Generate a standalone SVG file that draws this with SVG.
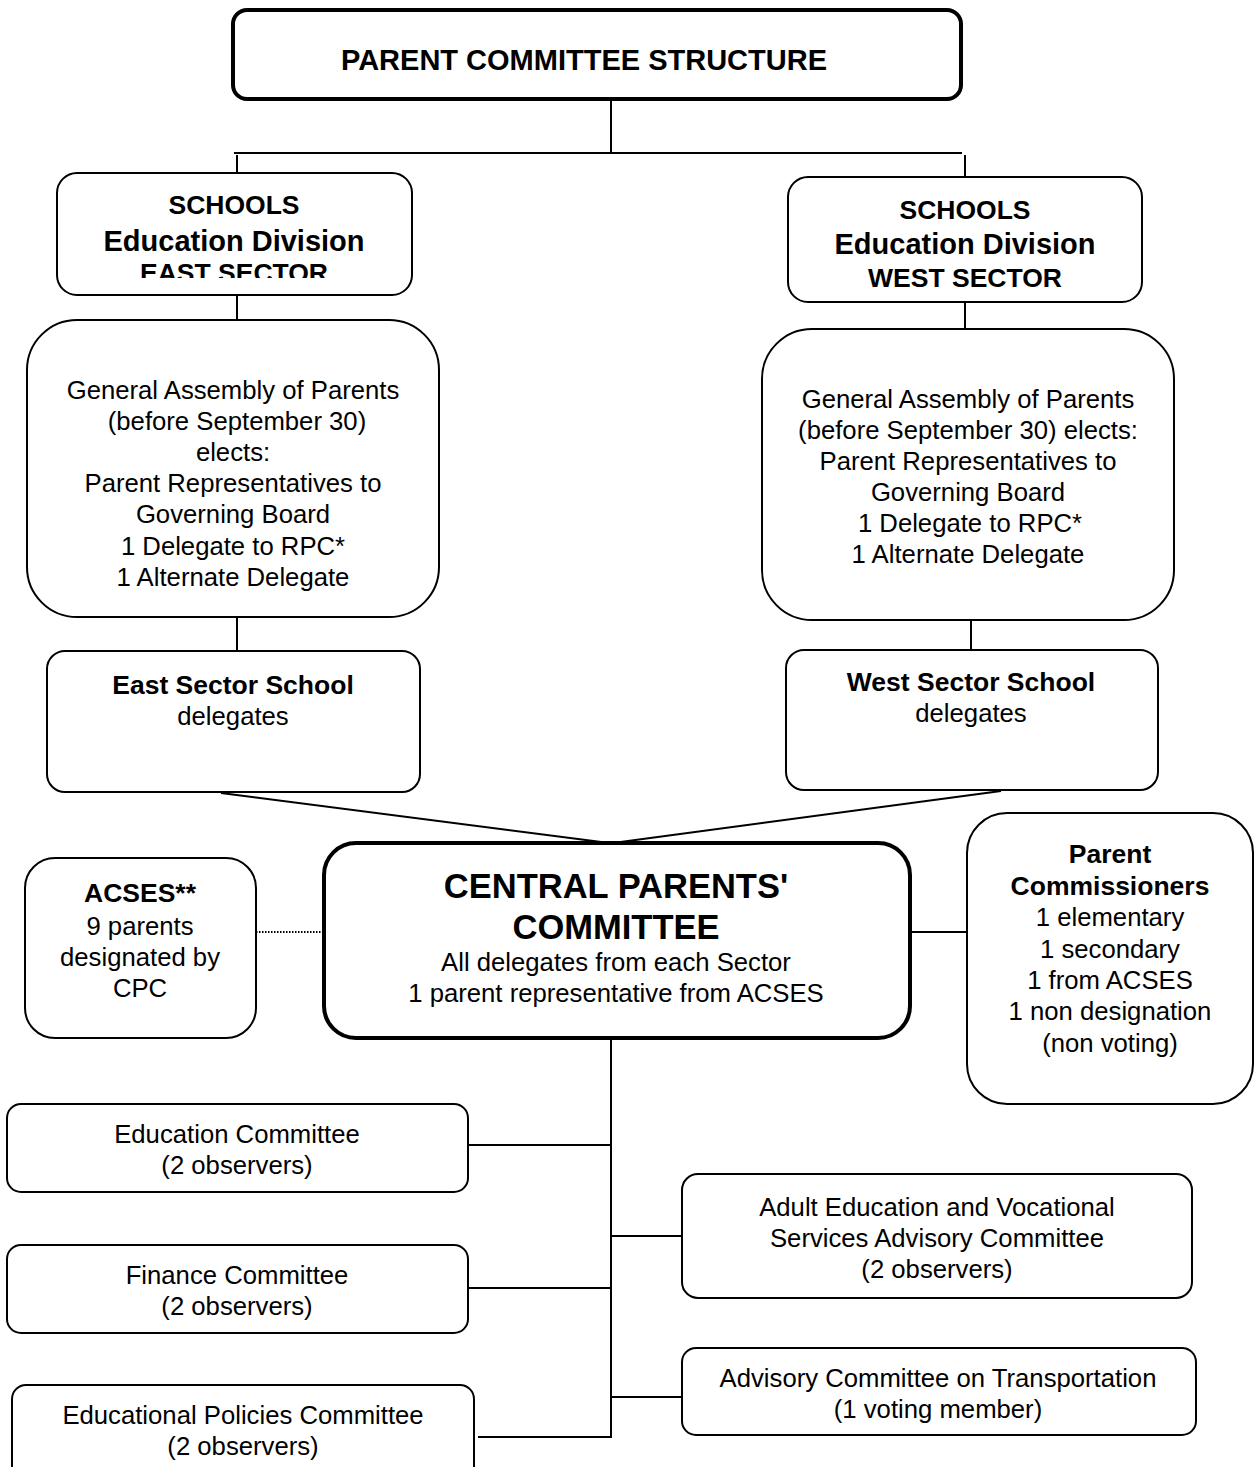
<svg xmlns="http://www.w3.org/2000/svg" width="1254" height="1467" viewBox="0 0 1254 1467">
<style>
.box{fill:#fff;stroke:#000;stroke-width:2}
.thick{stroke-width:4}
.t{font-family:"Liberation Sans",Arial,Helvetica,sans-serif;font-size:25.7px;fill:#000;text-anchor:middle}
.b{font-weight:bold;font-size:26.5px}
.c{fill:none;stroke:#000;stroke-width:2}
</style>
<defs>
<clipPath id="eastclip"><rect x="57" y="173" width="355" height="105"/></clipPath>
</defs>
<rect width="1254" height="1467" fill="#fff"/>
<g id="connectors">
<line class="c" x1="611" y1="100" x2="611" y2="153"/>
<line class="c" x1="234" y1="153" x2="962" y2="153"/>
<line class="c" x1="237" y1="155" x2="237" y2="181"/>
<line class="c" x1="965" y1="155" x2="965" y2="178"/>
<line class="c" x1="237" y1="295" x2="237" y2="320"/>
<line class="c" x1="965" y1="302" x2="965" y2="329"/>
<line class="c" x1="237" y1="617" x2="237" y2="651"/>
<line class="c" x1="971" y1="620" x2="971" y2="650"/>
<line class="c" x1="221" y1="793" x2="609" y2="843"/>
<line class="c" x1="1001" y1="791" x2="613" y2="843"/>
<line class="c" x1="256" y1="932" x2="325" y2="932" stroke-dasharray="1.5 1.5" stroke-width="1.5"/>
<line class="c" x1="910" y1="932" x2="967" y2="932"/>
<line class="c" x1="611" y1="1038" x2="611" y2="1438"/>
<line class="c" x1="468" y1="1145" x2="611" y2="1145"/>
<line class="c" x1="611" y1="1236" x2="682" y2="1236"/>
<line class="c" x1="468" y1="1288" x2="611" y2="1288"/>
<line class="c" x1="611" y1="1397" x2="682" y2="1397"/>
<line class="c" x1="478" y1="1437" x2="611" y2="1437"/>
</g>
<g id="title">
<rect class="box thick" x="233" y="10" width="728" height="89" rx="14"/>
<text class="t b" x="584" y="70" style="font-size:29px">PARENT COMMITTEE STRUCTURE</text>
</g>
<g id="east-division">
<rect class="box" x="57" y="173" width="355" height="122" rx="20"/>
<text class="t b" x="234" y="214">SCHOOLS</text>
<text class="t b" x="234" y="251" style="font-size:29px">Education Division</text>
<text class="t b" x="234" y="282" clip-path="url(#eastclip)">EAST SECTOR</text>
</g>
<g id="west-division">
<rect class="box" x="788" y="177" width="354" height="125" rx="20"/>
<text class="t b" x="965" y="219">SCHOOLS</text>
<text class="t b" x="965" y="254" style="font-size:29px">Education Division</text>
<text class="t b" x="965" y="287">WEST SECTOR</text>
</g>
<g id="east-assembly">
<rect class="box" x="27" y="320" width="412" height="297" rx="50"/>
<text class="t" x="233" y="399">General Assembly of Parents</text>
<text class="t" x="237" y="430">(before September 30)</text>
<text class="t" x="233" y="461">elects:</text>
<text class="t" x="233" y="492">Parent Representatives to</text>
<text class="t" x="233" y="523">Governing Board</text>
<text class="t" x="233" y="555">1 Delegate to RPC*</text>
<text class="t" x="233" y="586">1 Alternate Delegate</text>
</g>
<g id="west-assembly">
<rect class="box" x="762" y="329" width="412" height="291" rx="50"/>
<text class="t" x="968" y="408">General Assembly of Parents</text>
<text class="t" x="968" y="439">(before September 30) elects:</text>
<text class="t" x="968" y="470">Parent Representatives to</text>
<text class="t" x="968" y="501">Governing Board</text>
<text class="t" x="970" y="532">1 Delegate to RPC*</text>
<text class="t" x="968" y="563">1 Alternate Delegate</text>
</g>
<g id="east-school">
<rect class="box" x="47" y="651" width="373" height="141" rx="18"/>
<text class="t b" x="233" y="694">East Sector School</text>
<text class="t" x="233" y="725">delegates</text>
</g>
<g id="west-school">
<rect class="box" x="786" y="650" width="372" height="140" rx="18"/>
<text class="t b" x="971" y="691">West Sector School</text>
<text class="t" x="971" y="722">delegates</text>
</g>
<g id="acses">
<rect class="box" x="25" y="858" width="231" height="180" rx="30"/>
<text class="t b" x="140" y="902">ACSES**</text>
<text class="t" x="140" y="935">9 parents</text>
<text class="t" x="140" y="966">designated by</text>
<text class="t" x="140" y="997">CPC</text>
</g>
<g id="cpc">
<rect class="box thick" x="324" y="843" width="586" height="195" rx="32"/>
<text class="t b" x="616" y="898" style="font-size:34.5px">CENTRAL PARENTS'</text>
<text class="t b" x="616" y="939" style="font-size:34.5px">COMMITTEE</text>
<text class="t" x="616" y="971">All delegates from each Sector</text>
<text class="t" x="616" y="1002">1 parent representative from ACSES</text>
</g>
<g id="parent-commissioners">
<rect class="box" x="967" y="813" width="286" height="291" rx="40"/>
<text class="t b" x="1110" y="863">Parent</text>
<text class="t b" x="1110" y="895">Commissioners</text>
<text class="t" x="1110" y="926">1 elementary</text>
<text class="t" x="1110" y="958">1 secondary</text>
<text class="t" x="1110" y="989">1 from ACSES</text>
<text class="t" x="1110" y="1020">1 non designation</text>
<text class="t" x="1110" y="1052">(non voting)</text>
</g>
<g id="education-committee">
<rect class="box" x="7" y="1104" width="461" height="88" rx="14"/>
<text class="t" x="237" y="1143">Education Committee</text>
<text class="t" x="237" y="1174">(2 observers)</text>
</g>
<g id="finance-committee">
<rect class="box" x="7" y="1245" width="461" height="88" rx="14"/>
<text class="t" x="237" y="1284">Finance Committee</text>
<text class="t" x="237" y="1315">(2 observers)</text>
</g>
<g id="educational-policies-committee">
<rect class="box" x="12" y="1385" width="462" height="95" rx="14"/>
<text class="t" x="243" y="1424">Educational Policies Committee</text>
<text class="t" x="243" y="1455">(2 observers)</text>
</g>
<g id="adult-education-committee">
<rect class="box" x="682" y="1174" width="510" height="124" rx="16"/>
<text class="t" x="937" y="1216">Adult Education and Vocational</text>
<text class="t" x="937" y="1247">Services Advisory Committee</text>
<text class="t" x="937" y="1278">(2 observers)</text>
</g>
<g id="transportation-committee">
<rect class="box" x="682" y="1348" width="514" height="87" rx="14"/>
<text class="t" x="938" y="1387">Advisory Committee on Transportation</text>
<text class="t" x="938" y="1418">(1 voting member)</text>
</g>
</svg>
